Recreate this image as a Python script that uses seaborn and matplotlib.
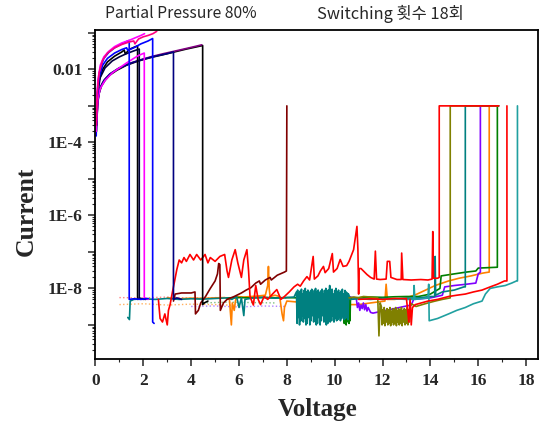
import numpy as np
import pandas as pd
import matplotlib
matplotlib.use('Agg')
import matplotlib.pyplot as plt
import seaborn as sns
from matplotlib.ticker import FixedLocator, FuncFormatter, MultipleLocator, NullFormatter

# ---- high current (reset) sweeps ----
black1_v = [0.04, 0.08, 0.15, 0.25, 0.4, 0.6, 0.9, 1.3, 1.8, 2.3, 2.8, 3.3, 3.8, 4.2, 4.48, 4.48, 4.55, 4.7]
black1_i = [2e-4, 1e-3, 2.2e-3, 3.5e-3, 5e-3, 7e-3, 9.5e-3, 1.3e-2, 1.7e-2, 2.1e-2, 2.5e-2, 3e-2, 3.6e-2, 4.1e-2, 4.5e-2, 3.6e-9, 4e-9, 4.5e-9]
purple1_v = [0.05, 0.09, 0.16, 0.27, 0.42, 0.65, 0.95, 1.35, 1.85, 2.35, 2.85, 3.35, 3.85, 4.2, 4.44]
purple1_i = [3e-4, 1.2e-3, 2.6e-3, 4e-3, 5.6e-3, 7.8e-3, 1.05e-2, 1.4e-2, 1.8e-2, 2.25e-2, 2.7e-2, 3.2e-2, 3.8e-2, 4.3e-2, 4.7e-2]
navy1_v = [0.05, 0.1, 0.2, 0.35, 0.6, 1.0, 1.5, 2.0, 2.5, 3.0, 3.26, 3.26, 3.4, 3.6]
navy1_i = [3e-4, 1.5e-3, 3.2e-3, 5e-3, 7.5e-3, 1.1e-2, 1.5e-2, 1.9e-2, 2.3e-2, 2.7e-2, 3e-2, 5e-9, 5.5e-9, 5e-9]
black2_v = [0.04, 0.08, 0.15, 0.3, 0.5, 0.8, 1.1, 1.2, 1.25, 1.4, 1.6, 1.76, 1.76, 1.9, 2.1]
black2_i = [3e-4, 2e-3, 5e-3, 1e-2, 1.6e-2, 2.3e-2, 3e-2, 3.4e-2, 2.6e-2, 3.5e-2, 4e-2, 4.4e-2, 5e-9, 5.2e-9, 5e-9]
navy2_v = [0.05, 0.1, 0.2, 0.4, 0.7, 1.0, 1.3, 1.6, 1.83, 1.83, 2.0]
navy2_i = [4e-4, 2.5e-3, 6e-3, 1.1e-2, 1.7e-2, 2.2e-2, 2.7e-2, 3.2e-2, 3.6e-2, 5.5e-9, 5e-9]
blue1_v = [0.03, 0.06, 0.1, 0.2, 0.35, 0.55, 0.8, 1.05, 1.25, 1.41, 1.41, 1.6, 1.9, 2.2]
blue1_i = [1.5e-4, 1.2e-3, 4e-3, 1.1e-2, 2e-2, 2.9e-2, 3.9e-2, 4.8e-2, 5.6e-2, 6.2e-2, 5e-9, 5.2e-9, 5e-9, 5.3e-9]
blue2_v = [0.04, 0.08, 0.15, 0.3, 0.5, 0.8, 1.1, 1.3, 1.35, 1.6, 1.9, 2.2, 2.39, 2.39, 2.45]
blue2_i = [3e-4, 2e-3, 6e-3, 1.3e-2, 2e-2, 2.8e-2, 3.5e-2, 3.9e-2, 3.3e-2, 3.9e-2, 5e-2, 6e-2, 7e-2, 1.2e-9, 1.1e-9]
mag1_v = [0.05, 0.1, 0.2, 0.4, 0.7, 1.0, 1.3, 1.6, 1.8, 2.04, 2.04, 2.2]
mag1_i = [4e-4, 1.5e-3, 3e-3, 5e-3, 8e-3, 1.1e-2, 1.5e-2, 2e-2, 2.4e-2, 2.8e-2, 5.5e-9, 5e-9]
mag2_v = [0.03, 0.06, 0.1, 0.2, 0.35, 0.55, 0.8, 1.1, 1.4, 1.7, 1.9, 2.05]
mag2_i = [2e-4, 1.5e-3, 5e-3, 1.3e-2, 2.2e-2, 3.1e-2, 4.2e-2, 5.3e-2, 6.2e-2, 7.5e-2, 8.5e-2, 9.5e-2]
pink_v = [0.04, 0.08, 0.15, 0.3, 0.5, 0.8, 1.1, 1.4, 1.6, 1.65, 1.8, 2.0, 2.2, 2.4, 2.56]
pink_i = [3e-4, 2.5e-3, 8e-3, 1.8e-2, 2.8e-2, 3.9e-2, 4.8e-2, 5.6e-2, 6e-2, 5e-2, 6.8e-2, 7.8e-2, 8.5e-2, 9.5e-2, 1.1e-1]

# ---- low current (set) sweeps ----
red1_v = [2.63, 2.7, 2.8, 2.9, 3.0, 3.05, 3.12, 3.2, 3.3, 3.4, 3.5, 3.6, 3.7, 3.8, 3.95, 4.1, 4.23, 4.4, 4.58,
          4.7, 4.8, 5.0, 5.2, 5.4, 5.5, 5.56, 5.7, 5.84, 5.95, 6.1, 6.2, 6.33, 6.4, 6.46, 6.6, 6.7, 6.8, 6.9,
          7.05, 7.2, 7.4, 7.58, 7.75, 7.9, 8.1, 8.3, 8.45, 8.56, 8.7, 8.84, 8.95, 9.1, 9.15, 9.3, 9.4, 9.53,
          9.6, 9.75, 9.9, 9.95, 10.1, 10.23, 10.35, 10.5, 10.6, 10.79, 10.93, 10.97, 11.0, 11.02, 11.1, 11.35,
          11.5, 11.65, 11.7, 11.75, 11.9, 12.15, 12.2, 12.3, 12.35, 12.6, 12.78, 12.8, 12.85, 13.2, 13.6,
          13.9, 14.07, 14.1, 14.13, 14.3, 14.37, 14.37, 16.85]
red1_i = [5e-9, 1.5e-9, 1.2e-9, 2e-9, 1e-9, 2.5e-9, 3.6e-9, 7e-9, 1.5e-8, 3.3e-8, 6e-8, 5e-8, 7e-8, 5.5e-8, 8.5e-8, 6e-8, 8.5e-8, 6e-8, 8.5e-8,
          5e-8, 7e-8, 5.5e-8, 7.5e-8, 8.5e-8, 3e-8, 2e-8, 6e-8, 1.15e-7, 5e-8, 2e-8, 6e-8, 1.15e-7, 3e-8, 6e-9, 3.5e-9, 1.2e-8, 5e-9, 3.6e-9,
          6e-9, 5e-9, 7e-9, 9.3e-9, 5e-9, 6e-9, 8e-9, 1.1e-8, 1.3e-8, 1.15e-8, 1.6e-8, 2.1e-8, 1.7e-8, 7.5e-8, 1.8e-8, 2.2e-8, 3e-8, 4e-8,
          2.7e-8, 3.5e-8, 9e-8, 2.8e-8, 3.5e-8, 6.2e-8, 4e-8, 4.2e-8, 5.5e-8, 1.15e-7, 5e-7, 1.2e-7, 7e-9, 3.5e-8, 3.5e-8, 2.4e-8,
          2e-8, 1.8e-8, 1.05e-7, 1.8e-8, 1.75e-8, 1.8e-8, 5.5e-8, 5.5e-8, 2e-8, 1.75e-8, 1.75e-8, 9.3e-8, 1.75e-8, 1.7e-8, 1.75e-8,
          1.7e-8, 1.8e-8, 3.6e-7, 1.9e-8, 1.9e-8, 2e-8, 1e-3, 1e-3]

darkred_v = [3.26, 3.33, 3.6, 4.0, 4.16, 4.18, 4.3, 4.4, 4.6, 4.8, 5.0, 5.1, 5.15, 5.2, 5.22, 5.35, 5.5, 5.8, 6.1, 6.3,
             6.5, 6.7, 6.85, 6.9, 7.1, 7.3, 7.35, 7.6, 7.9, 7.98, 8.0]
darkred_i = [4.5e-9, 7e-9, 7.5e-9, 7.5e-9, 8e-9, 2e-9, 2.5e-9, 4e-9, 6e-9, 1e-8, 1.6e-8, 2.5e-8, 4.8e-8, 4.5e-8, 2.5e-9, 4e-9, 5e-9, 6e-9, 7.5e-9, 9e-9,
             1.05e-8, 1.4e-8, 1.6e-8, 1.3e-8, 1.7e-8, 2e-8, 1.7e-8, 2.3e-8, 2.8e-8, 3e-8, 1e-3]

orange_v = [3.0, 3.5, 4.0, 4.5, 5.0, 5.4, 5.6, 5.68, 5.72, 5.8, 5.85, 5.9, 6.2, 6.5, 6.8, 7.1, 7.2, 7.23, 7.26, 7.3,
            7.5, 7.7, 7.8, 7.86, 7.9, 8.0, 8.5, 9.0, 9.5, 10.0, 10.5, 11.0, 11.5, 12.1, 12.15, 12.2, 12.5, 13.0,
            13.4, 13.8, 14.2, 14.76, 15.2, 15.7, 16.16, 16.3, 16.46, 16.46, 16.85]
orange_i = [5.5e-9, 5.2e-9, 5.4e-9, 5.3e-9, 5.5e-9, 5.6e-9, 5e-9, 1e-9, 4e-9, 2.5e-9, 4.5e-9, 6e-9, 5.8e-9, 6e-9, 6.2e-9, 6.5e-9, 1.2e-8, 4e-8, 1e-8, 6e-9,
            6.5e-9, 6e-9, 2e-9, 1.3e-9, 3e-9, 4.5e-9, 4.2e-9, 4e-9, 3.8e-9, 3.7e-9, 3.6e-9, 3.6e-9, 4e-9, 4.5e-9, 1.3e-8, 5e-9, 5e-9, 5.5e-9,
            6.8e-9, 9e-9, 1.2e-8, 1.6e-8, 1.9e-8, 2.2e-8, 2.6e-8, 2.7e-8, 2.8e-8, 1e-3, 1e-3]

green_pre_v = [5.5, 6.0, 6.5, 7.0, 7.5, 8.0, 8.5, 9.0, 9.5, 10.0, 10.35]
green_pre_i = [5.5e-9, 5.6e-9, 5.5e-9, 5.7e-9, 5.5e-9, 5.6e-9, 5.5e-9, 5.8e-9, 5.6e-9, 5.7e-9, 5.8e-9]
green_band = [(10.38, 6e-9), (10.40, 1.1e-9), (10.42, 5.5e-9), (10.44, 1.2e-9), (10.46, 6e-9), (10.48, 1.0e-9),
              (10.50, 5.8e-9), (10.52, 1.3e-9), (10.54, 6e-9), (10.56, 1.2e-9), (10.58, 5.6e-9), (10.60, 1.1e-9),
              (10.62, 6e-9), (10.64, 1.3e-9), (10.66, 5.5e-9)]
green_post_v = [10.7, 11.0, 11.5, 12.0, 12.5, 13.0, 13.5, 14.0, 14.4, 14.45, 15.0, 15.5, 15.9, 16.0, 16.8, 16.8, 16.85]
green_post_i = [5.5e-9, 5.6e-9, 5.8e-9, 5.7e-9, 5.9e-9, 6e-9, 6e-9, 7e-9, 1e-8, 2.2e-8, 2.5e-8, 2.8e-8, 3e-8, 3.6e-8, 3.8e-8, 1e-3, 1e-3]

violet_v = [8.5, 9.0, 9.5, 10.0, 10.3, 10.6, 10.9, 10.95, 11.0, 11.05, 11.1, 11.15, 11.2, 11.25, 11.3, 11.35, 11.4,
            11.5, 11.6, 12.0, 12.5, 13.0, 13.2, 13.3, 13.6, 14.0, 14.5, 14.6, 15.0, 15.5, 15.9, 16.0, 16.09, 16.09, 16.85]
violet_i = [5.2e-9, 5e-9, 5.3e-9, 5.2e-9, 5.5e-9, 5.8e-9, 5.5e-9, 3e-9, 4e-9, 2.5e-9, 3.5e-9, 2.8e-9, 4e-9, 2.6e-9, 3.6e-9, 2.4e-9, 3e-9,
            2.2e-9, 2.1e-9, 2.4e-9, 2.8e-9, 3.3e-9, 3.5e-9, 5e-9, 5.2e-9, 5.5e-9, 6.5e-9, 1.1e-8, 1.2e-8, 1.3e-8, 1.4e-8, 2.5e-8, 2.8e-8, 1e-3, 1e-3]

teal_pre_v = [1.35, 1.42, 1.45, 1.6, 2.0, 2.5, 3.0, 3.5, 4.0, 4.5, 5.0, 5.5, 5.7, 5.9, 6.0, 6.1, 6.2, 6.25, 6.6, 7.0, 7.5, 8.0, 8.3]
teal_pre_i = [1.6e-9, 1.4e-9, 4.5e-9, 5e-9, 5.2e-9, 5e-9, 5.3e-9, 5e-9, 5.2e-9, 5.1e-9, 5.3e-9, 5.5e-9, 5e-9, 6e-9, 3e-9, 5.5e-9, 1.8e-9, 5e-9, 5.5e-9, 5.6e-9, 5.4e-9, 5.6e-9, 5.8e-9]
teal_band = [(8.40, 8e-9), (8.43, 1.1e-9), (8.45, 9e-9), (8.48, 1.6e-9), (8.51, 7.5e-9), (8.53, 1.0e-9),
             (8.56, 8.5e-9), (8.59, 1.3e-9), (8.61, 9.5e-9), (8.64, 1.8e-9), (8.67, 7e-9), (8.69, 1.2e-9),
             (8.72, 8.8e-9), (8.75, 1.5e-9), (8.77, 1.0e-8), (8.80, 1.0e-9), (8.83, 8e-9), (8.85, 1.1e-9),
             (8.88, 9e-9), (8.91, 1.6e-9), (8.93, 7.5e-9), (8.96, 1.0e-9), (8.99, 8.5e-9), (9.01, 1.3e-9),
             (9.04, 9.5e-9), (9.07, 1.8e-9), (9.09, 7e-9), (9.12, 1.2e-9), (9.15, 8.8e-9), (9.17, 1.5e-9),
             (9.20, 1.0e-8), (9.23, 1.0e-9), (9.25, 8e-9), (9.28, 1.1e-9), (9.31, 9e-9), (9.33, 1.6e-9),
             (9.36, 7.5e-9), (9.39, 1.0e-9), (9.41, 8.5e-9), (9.44, 1.3e-9), (9.47, 9.5e-9), (9.49, 1.8e-9),
             (9.52, 7e-9), (9.55, 1.2e-9), (9.57, 8.8e-9), (9.60, 1.5e-9), (9.63, 1.0e-8), (9.65, 1.0e-9),
             (9.68, 8e-9), (9.71, 1.1e-9), (9.73, 9e-9), (9.76, 1.6e-9), (9.79, 1.2e-8), (9.81, 1.2e-9),
             (9.84, 8.5e-9), (9.87, 1.3e-9), (9.89, 9.5e-9), (9.92, 1.8e-9), (9.95, 7e-9), (9.97, 1.2e-9),
             (10.00, 8.8e-9), (10.03, 1.5e-9), (10.05, 1.0e-8), (10.08, 1.3e-9), (10.11, 8e-9), (10.13, 1.4e-9),
             (10.16, 9e-9), (10.19, 1.6e-9), (10.21, 7.5e-9), (10.24, 1.3e-9), (10.27, 8.5e-9), (10.29, 1.5e-9),
             (10.32, 9.5e-9), (10.35, 1.8e-9), (10.37, 7e-9), (10.40, 1.4e-9), (10.43, 8.8e-9), (10.45, 1.5e-9),
             (10.48, 8e-9), (10.51, 1.6e-9), (10.53, 7.5e-9), (10.56, 1.4e-9), (10.58, 7e-9)]
teal_post_v = [10.65, 11.0, 11.5, 12.0, 12.5, 13.0, 13.5, 14.0, 14.18, 14.2, 14.22, 14.5, 15.0, 15.4, 15.46, 15.46, 16.85]
teal_post_i = [5e-9, 5.2e-9, 5e-9, 5.3e-9, 5.1e-9, 5.4e-9, 5.5e-9, 6e-9, 6e-9, 7.5e-8, 6.5e-9, 8e-9, 9e-9, 1.1e-8, 1.1e-8, 1e-3, 1e-3]

olive_pre_v = [10.6, 10.8, 11.0, 11.2, 11.5, 11.8, 11.85, 11.9]
olive_pre_i = [5.5e-9, 5.8e-9, 5.5e-9, 6e-9, 5.8e-9, 5.5e-9, 5e-10, 4e-9]
olive_band = [(11.95, 3.2e-9), (11.98, 1.0e-9), (12.01, 2.6e-9), (12.04, 1.1e-9), (12.07, 3e-9), (12.10, 0.95e-9),
              (12.13, 2.4e-9), (12.16, 1.2e-9), (12.19, 2.8e-9), (12.22, 1.0e-9), (12.25, 2.6e-9), (12.28, 1.1e-9),
              (12.31, 3e-9), (12.34, 0.95e-9), (12.37, 2.4e-9), (12.40, 1.2e-9), (12.43, 2.8e-9), (12.46, 1.0e-9),
              (12.49, 2.6e-9), (12.52, 1.1e-9), (12.55, 3e-9), (12.58, 0.95e-9), (12.61, 2.4e-9), (12.64, 1.2e-9),
              (12.67, 2.8e-9), (12.70, 1.0e-9), (12.73, 2.6e-9), (12.76, 1.1e-9), (12.79, 3e-9), (12.82, 0.95e-9),
              (12.85, 2.4e-9), (12.88, 1.2e-9), (12.91, 2.8e-9), (12.94, 1.0e-9), (12.97, 2.6e-9), (13.00, 1.1e-9),
              (13.03, 3e-9), (13.06, 1.0e-9), (13.09, 2.6e-9), (13.12, 1.2e-9), (13.15, 3e-9)]
olive_post_v = [13.2, 13.4, 13.6, 13.9, 14.2, 14.5, 14.83, 14.83, 16.85]
olive_post_i = [3.8e-9, 3.2e-9, 3.5e-9, 4e-9, 4.5e-9, 5e-9, 5.5e-9, 1e-3, 1e-3]

red2_v = [11.0, 11.5, 12.0, 12.5, 13.0, 13.1, 13.15, 13.2, 13.25, 13.37, 13.9, 14.3, 14.76, 15.1, 15.46, 15.8,
          16.16, 16.5, 16.8, 17.1, 17.2, 17.2]
red2_i = [5e-9, 5.2e-9, 5e-9, 5.3e-9, 5.2e-9, 1.2e-9, 5e-9, 1e-9, 3e-9, 3.6e-9, 4.5e-9, 5e-9, 6e-9, 6.5e-9, 7e-9, 8e-9,
          9e-9, 1.1e-8, 1.3e-8, 1.6e-8, 1.6e-8, 1e-3]

teal2_v = [12.0, 12.5, 13.0, 13.3, 13.32, 13.35, 13.9, 13.93, 13.95, 14.3, 14.76, 15.1, 15.46, 15.8, 16.16, 16.3,
           16.5, 16.8, 17.13, 17.4, 17.6, 17.64, 17.64]
teal2_i = [5e-9, 5.2e-9, 5e-9, 5e-9, 1.2e-8, 5e-9, 5.5e-9, 1.3e-8, 1.3e-9, 1.5e-9, 2e-9, 2.5e-9, 3e-9, 3.8e-9, 4.5e-9, 7e-9,
           1e-8, 1.1e-8, 1.2e-8, 1.4e-8, 1.6e-8, 1.6e-8, 1e-3]

# faint dotted traces near the floor
dot_pink_v = [1.0, 2.0, 3.0, 4.0, 5.0, 6.0, 7.0, 8.0]
dot_pink_i = [5.6e-9, 5.5e-9, 5.8e-9, 5.4e-9, 5.6e-9, 5.5e-9, 5.7e-9, 5.5e-9]
dot_orange_v = [1.0, 2.0, 3.0, 4.0, 5.0, 6.0]
dot_orange_i = [3.6e-9, 3.8e-9, 3.5e-9, 3.7e-9, 3.6e-9, 3.4e-9]
dot_violet_v = [4.0, 5.0, 6.0, 7.0, 8.0]
dot_violet_i = [3.2e-9, 3.3e-9, 3.1e-9, 3.3e-9, 3.2e-9]
dot_green_v = [4.5, 5.5, 6.5, 7.5]
dot_green_i = [4e-9, 4.2e-9, 4.1e-9, 4e-9]


def unzip(pairs):
    return [p[0] for p in pairs], [p[1] for p in pairs]


green_band_v, green_band_i = unzip(green_band)
teal_band_v, teal_band_i = unzip(teal_band)
olive_band_v, olive_band_i = unzip(olive_band)

solid = [
    ('orange', '#ff8000', orange_v, orange_i),
    ('green', '#008000', green_pre_v + green_band_v + green_post_v, green_pre_i + green_band_i + green_post_i),
    ('violet', '#8000ff', violet_v, violet_i),
    ('teal', '#008080', teal_pre_v + teal_band_v + teal_post_v, teal_pre_i + teal_band_i + teal_post_i),
    ('olive', '#808000', olive_pre_v + olive_band_v + olive_post_v, olive_pre_i + olive_band_i + olive_post_i),
    ('teal2', '#20a0a0', teal2_v, teal2_i),
    ('red2', '#ff0000', red2_v, red2_i),
    ('darkred', '#800000', darkred_v, darkred_i),
    ('red1', '#ff0000', red1_v, red1_i),
    ('black1', '#000000', black1_v, black1_i),
    ('purple1', '#800080', purple1_v, purple1_i),
    ('navy1', '#000080', navy1_v, navy1_i),
    ('black2', '#000000', black2_v, black2_i),
    ('navy2', '#000040', navy2_v, navy2_i),
    ('mag1', '#ff00ff', mag1_v, mag1_i),
    ('blue1', '#0000ff', blue1_v, blue1_i),
    ('blue2', '#0000ff', blue2_v, blue2_i),
    ('mag2', '#ff00ff', mag2_v, mag2_i),
    ('pink', '#ff0080', pink_v, pink_i),
]
dotted = [
    ('dpink', '#ff8080', dot_pink_v, dot_pink_i),
    ('dorange', '#ffb060', dot_orange_v, dot_orange_i),
    ('dviolet', '#b080ff', dot_violet_v, dot_violet_i),
    ('dgreen', '#80c080', dot_green_v, dot_green_i),
]


def to_frame(items):
    parts = [pd.DataFrame({'V': v, 'I': i, 'curve': name}) for name, c, v, i in items]
    return pd.concat(parts, ignore_index=True), {name: c for name, c, v, i in items}


sns.set_style('ticks')
plt.rcParams['font.family'] = ['Liberation Serif', 'DejaVu Serif']

fig = plt.figure(figsize=(5.41, 4.30), dpi=100)
ax = fig.add_axes([0.1765, 0.164, 0.818, 0.766])
ax.set_yscale('log')

df_dot, pal_dot = to_frame(dotted)
sns.lineplot(data=df_dot, x='V', y='I', hue='curve', hue_order=list(pal_dot), palette=pal_dot,
             sort=False, estimator=None, legend=False, linewidth=1.0, linestyle=':', ax=ax)
df_sol, pal_sol = to_frame(solid)
sns.lineplot(data=df_sol, x='V', y='I', hue='curve', hue_order=list(pal_sol), palette=pal_sol,
             sort=False, estimator=None, legend=False, linewidth=1.2, ax=ax)

ax.set_xlim(0, 18.5)
ax.set_ylim(1.13e-10, 0.119)

ax.xaxis.set_major_locator(MultipleLocator(2))
ax.xaxis.set_minor_locator(MultipleLocator(1))
ax.yaxis.set_major_locator(FixedLocator([10.0 ** e for e in range(-10, 0)]))
ax.yaxis.set_minor_locator(FixedLocator([m * 10.0 ** e for e in range(-10, 0) for m in range(2, 10)]))
labels = {-2: '0.01', -4: '1E-4', -6: '1E-6', -8: '1E-8'}
ax.yaxis.set_major_formatter(FuncFormatter(lambda y, p: labels.get(int(round(np.log10(y))), '')))
ax.yaxis.set_minor_formatter(NullFormatter())

ax.tick_params(which='major', direction='out', length=5, width=1.1, labelsize=12.5, pad=4.5)
ax.tick_params(which='minor', direction='out', length=2.5, width=0.8)
for lab in ax.get_xticklabels() + ax.get_yticklabels():
    lab.set_fontweight('bold')
for s in ax.spines.values():
    s.set_linewidth(1.3)
    s.set_color('black')

ax.set_xlabel('Voltage', fontsize=18, fontweight='bold')
ax.set_ylabel('Current', fontsize=18.5, fontweight='bold')
ax.xaxis.set_label_coords(0.503, -0.118)
ax.yaxis.set_label_coords(-0.131, 0.45)

fig.text(0.194, 0.968, 'Partial Pressure 80%', fontsize=11.3, ha='left', va='center',
         family=['Noto Sans CJK KR', 'DejaVu Sans'])
fig.text(0.586, 0.968, 'Switching 횟수 18회', fontsize=11.8, ha='left', va='center',
         family=['Noto Sans CJK KR', 'DejaVu Sans'])

fig.savefig('out.png', dpi=100)
